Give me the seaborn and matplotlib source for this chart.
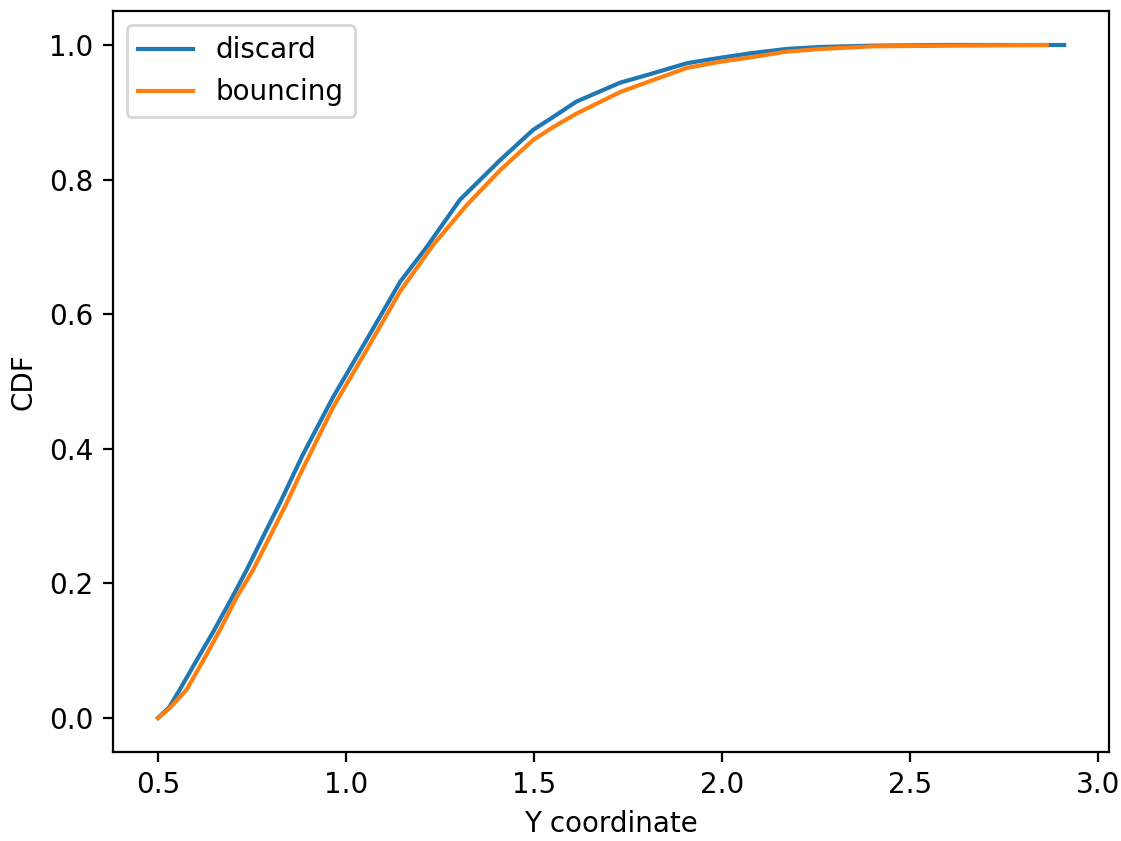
import matplotlib
matplotlib.use("Agg")
import matplotlib.pyplot as plt
import seaborn as sns
import pandas as pd

discard_x = [0.50, 0.53, 0.559, 0.60, 0.647, 0.70, 0.736, 0.78, 0.824, 0.886, 0.966, 1.055, 1.144,
             1.215, 1.303, 1.410, 1.498, 1.551, 1.613, 1.729, 1.817, 1.907, 1.995, 2.08, 2.17,
             2.26, 2.40, 2.60, 2.91]
discard_y = [0.0, 0.016, 0.043, 0.083, 0.128, 0.182, 0.220, 0.270, 0.319, 0.392, 0.477, 0.562, 0.648,
             0.700, 0.770, 0.829, 0.874, 0.893, 0.916, 0.944, 0.958, 0.973, 0.981, 0.988, 0.994,
             0.997, 0.999, 1.0, 1.0]

bouncing_x = [0.50, 0.53, 0.576, 0.62, 0.665, 0.71, 0.753, 0.80, 0.842, 0.878, 0.966, 1.055, 1.144,
              1.232, 1.321, 1.410, 1.498, 1.551, 1.613, 1.729, 1.817, 1.907, 1.995, 2.08, 2.17, 2.26,
              2.40, 2.60, 2.864]
bouncing_y = [0.0, 0.014, 0.042, 0.085, 0.131, 0.180, 0.220, 0.272, 0.319, 0.362, 0.462, 0.547, 0.634,
              0.703, 0.762, 0.814, 0.859, 0.878, 0.898, 0.930, 0.948, 0.966, 0.975, 0.982, 0.990, 0.994,
              0.998, 0.999, 1.0]

series_names = ["discard", "bouncing"]
series_colors = ["#1f77b4", "#ff7f0e"]

df_discard = pd.DataFrame({"x": discard_x, "y": discard_y})
df_bouncing = pd.DataFrame({"x": bouncing_x, "y": bouncing_y})

fig = plt.figure(figsize=(1121 / 200, 841 / 200), dpi=200)
ax = fig.add_axes([0.1005, 0.1063, 0.8892, 0.8802])
for df, name, col in zip([df_discard, df_bouncing], series_names, series_colors):
    sns.lineplot(data=df, x="x", y="y", ax=ax, color=col, label=name, sort=False, linewidth=1.5)

ax.set_xlabel("Y coordinate")
ax.set_ylabel("CDF")
ax.legend(loc="upper left")
fig.savefig("out.png", dpi=200)
